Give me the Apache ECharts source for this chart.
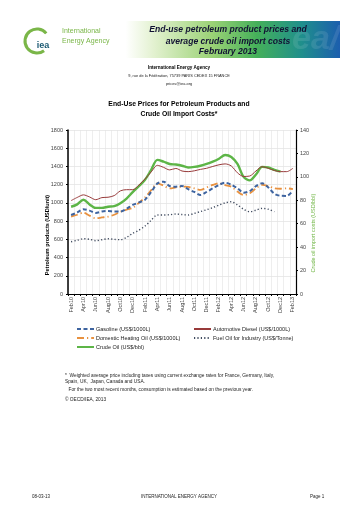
<!DOCTYPE html>
<html><head><meta charset="utf-8">
<script src="https://cdn.jsdelivr.net/npm/echarts@6/dist/echarts.min.js"></script>
<style>html,body{margin:0;padding:0;background:#fff}#c{width:358px;height:507px}</style>
</head><body><div id="c"></div>
<script>
const months = ['Feb10','Mar10','Apr10','May10','Jun10','Jul10','Aug10','Sep10','Oct10','Nov10','Dec10','Jan11',
'Feb11','Mar11','Apr11','May11','Jun11','Jul11','Aug11','Sep11','Oct11','Nov11','Dec11','Jan12',
'Feb12','Mar12','Apr12','May12','Jun12','Jul12','Aug12','Sep12','Oct12','Nov12','Dec12','Jan13','Feb13'];
const leftTicks = {min:0, max:1800, interval:200};
const rightTicks = {min:0, max:140, interval:20};
const gasoline = [867,895,930,915,890,905,911,905,905,935,977,1005,1035,1120,1212,1233,1185,1178,1185,1150,1120,1087,1120,1160,1197,1222,1200,1160,1112,1130,1185,1215,1170,1100,1078,1076,1135];
const diesel = [1025,1060,1088,1065,1035,1058,1062,1080,1132,1145,1145,1195,1262,1340,1412,1390,1362,1378,1350,1343,1352,1368,1380,1400,1418,1428,1405,1330,1290,1295,1350,1397,1380,1355,1343,1343,1380];
const heatingOil = [849,870,893,860,831,840,849,870,903,925,945,1000,1060,1140,1215,1190,1160,1170,1178,1175,1160,1142,1170,1197,1215,1195,1178,1124,1087,1105,1160,1197,1185,1160,1155,1160,1150];
const fuelOil = [574,590,607,600,585,595,607,600,596,620,666,700,746,810,867,867,870,878,872,867,885,905,925,948,975,1000,1013,977,930,903,920,940,930,903,null,null,null];
const crude = [74.5,76.5,80.5,76.5,73.5,73.5,74.5,75,77.5,81.5,87,92,97.5,106,114.5,113,111,110.5,109.5,108,108.5,109.5,111,113,115.5,118.7,117,111,100,97,102,108.5,108,106,104.5,null,null];

const FF = 'Liberation Sans, Arial, sans-serif';
const chart = echarts.init(document.getElementById('c'), null, {renderer:'canvas'});
function T(text, x, y, size, opts) {
  opts = opts || {};
  return {type:'text', x:x, y:y, rotation:opts.rot||0, z:10,
    style:{text:text, font:(opts.style||'normal')+' '+(opts.weight||'normal')+' '+size+'px '+(opts.family||FF),
      fill:opts.color||'#000', textAlign:opts.align||'left', textVerticalAlign:'middle', opacity:opts.opacity==null?1:opts.opacity}};
}
const graphics = [
  {type:'rect', shape:{x:20,y:21,width:320,height:37}, z:1,
   style:{fill:new echarts.graphic.LinearGradient(0,0,1,0,[
     {offset:0,color:'#ffffff'},{offset:0.33,color:'#ffffff'},{offset:0.42,color:'#e2f1cf'},
     {offset:0.6,color:'#9bd276'},{offset:0.74,color:'#45b05a'},{offset:0.88,color:'#1f8f8c'},{offset:1,color:'#1c5eae'}])}},
  T('ea/', 292, 40, 34, {weight:'bold', style:'italic', color:'#ffffff', opacity:0.1}),
  {type:'arc', shape:{cx:37, cy:41, r:12, startAngle:Math.PI*0.3, endAngle:Math.PI*1.78}, z:10,
   style:{stroke:'#7ab648', lineWidth:3, fill:null}},
  T('iea', 43, 46, 9, {weight:'bold', color:'#1b5a72', align:'center'}),
  T('International', 62, 31, 7, {color:'#7ab648'}),
  T('Energy Agency', 62, 41, 7, {color:'#7ab648'}),
  T('End-use petroleum product prices and', 228, 30, 8.6, {weight:'bold', style:'italic', color:'#111133', align:'center'}),
  T('average crude oil import costs', 228, 42, 8.6, {weight:'bold', style:'italic', color:'#111133', align:'center'}),
  T('February 2013', 228, 51.5, 8.6, {weight:'bold', style:'italic', color:'#111133', align:'center'}),
  T('International Energy Agency', 179, 68, 4.6, {weight:'bold', align:'center'}),
  T('9, rue de la Fédération, 75739 PARIS CEDEX 15 FRANCE', 179, 75.5, 3.9, {align:'center', color:'#222'}),
  T('prices@iea.org', 179, 84, 3.9, {align:'center', color:'#222'}),
  T('End-Use Prices for Petroleum Products and', 179, 104, 6.8, {weight:'bold', align:'center'}),
  T('Crude Oil Import Costs*', 179, 114, 6.8, {weight:'bold', align:'center'}),
  T('Petroleum products (USD/unit)', 47, 235, 5.5, {weight:'bold', align:'center', rot:Math.PI/2}),
  T('Crude oil import costs (USD/bbl)', 313, 233, 5.5, {color:'#6fb544', align:'center', rot:Math.PI/2}),
  T('*  Weighted average price including taxes using current exchange rates for France, Germany, Italy,', 65, 376, 4.8, {color:'#222'}),
  T('Spain, UK,  Japan, Canada and USA.', 65, 382, 4.8, {color:'#222'}),
  T('For the two most recent months, consumption is estimated based on the previous year.', 68.5, 389.5, 4.8, {color:'#222'}),
  T('© OECD/IEA, 2013', 65, 400, 4.8, {color:'#222'}),
  T('08-03-13', 32, 497, 4.5, {color:'#222'}),
  T('INTERNATIONAL ENERGY AGENCY', 179, 497, 4.5, {align:'center', color:'#222'}),
  T('Page 1', 310, 497, 4.5, {color:'#222'})
];
const lbl = {fontFamily:FF, fontSize:5.5, color:'#444'};
const legendCommon = {orient:'vertical', itemGap:3, itemWidth:17, itemHeight:7, padding:0,
  itemStyle:{opacity:0},
  textStyle:{fontFamily:FF, fontSize:5.5, color:'#222', padding:[0,0,0,-3]}};
chart.setOption({
  animation:false,
  backgroundColor:'#fff',
  graphic: graphics,
  grid:{left:68, right:62, top:130, bottom:213, containLabel:false},
  legend:[
    Object.assign({left:76, top:326, data:['Gasoline (US$/1000L)','Domestic Heating Oil (US$/1000L)','Crude Oil (US$/bbl)']}, legendCommon),
    Object.assign({left:193, top:326, data:['Automotive Diesel (US$/1000L)','Fuel Oil for Industry (US$/Tonne)']}, legendCommon)
  ],
  xAxis:{type:'category', data:months, boundaryGap:true,
    axisLine:{lineStyle:{color:'#000', width:1.2}},
    axisTick:{show:true, interval:0, length:2, lineStyle:{color:'#000'}},
    axisLabel:{interval:1, rotate:90, margin:3, ...lbl},
    splitLine:{show:true, interval:0, lineStyle:{color:'#e2e2e2', width:0.6}}},
  yAxis:[
    {type:'value', min:leftTicks.min, max:leftTicks.max, interval:leftTicks.interval,
     axisLine:{show:true, lineStyle:{color:'#000', width:1.5}},
     axisTick:{show:true, length:2, lineStyle:{color:'#000'}},
     axisLabel:{margin:5, formatter:v=>String(v), ...lbl},
     splitLine:{lineStyle:{color:'#dcdcdc', width:0.6}}},
    {type:'value', min:rightTicks.min, max:rightTicks.max, interval:rightTicks.interval, position:'right',
     axisLine:{show:true, lineStyle:{color:'#000', width:1.2}},
     axisTick:{show:true, length:2, lineStyle:{color:'#000'}},
     axisLabel:{margin:4, formatter:v=>String(v), ...lbl},
     splitLine:{show:false}}
  ],
  series:[
    {name:'Gasoline (US$/1000L)', type:'line', data:gasoline, symbol:'none', smooth:0.3, z:4,
     lineStyle:{color:'#3e64a0', width:2, type:[4,2.5]}, itemStyle:{color:'#3e64a0'}},
    {name:'Automotive Diesel (US$/1000L)', type:'line', data:diesel, symbol:'none', smooth:0.3, z:3,
     lineStyle:{color:'#983a3a', width:1}, itemStyle:{color:'#983a3a'}},
    {name:'Domestic Heating Oil (US$/1000L)', type:'line', data:heatingOil, symbol:'none', smooth:0.3, z:3,
     lineStyle:{color:'#e8913f', width:1.8, type:[7,3,1.2,3]}, itemStyle:{color:'#e8913f'}},
    {name:'Fuel Oil for Industry (US$/Tonne)', type:'line', data:fuelOil, symbol:'none', smooth:0.3, z:3,
     lineStyle:{color:'#3f4a5e', width:1.4, type:[1.2,2.2]}, itemStyle:{color:'#3f4a5e'}},
    {name:'Crude Oil (US$/bbl)', type:'line', yAxisIndex:1, data:crude, symbol:'none', smooth:0.3, z:2,
     lineStyle:{color:'#5db547', width:2.4}, itemStyle:{color:'#5db547'}}
  ]
});
</script></body></html>
